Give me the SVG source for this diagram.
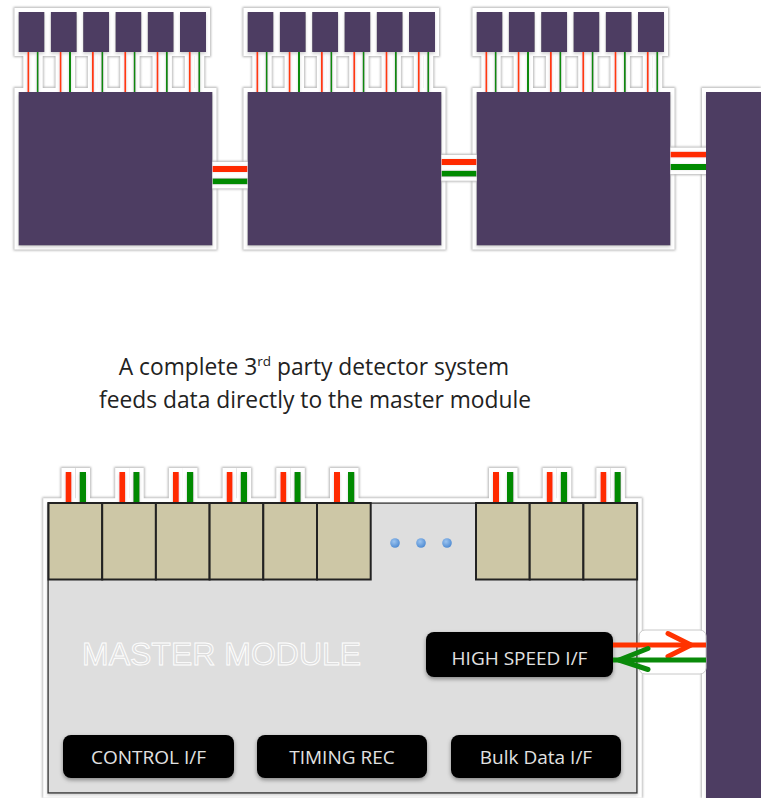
<svg xmlns="http://www.w3.org/2000/svg" xmlns:xlink="http://www.w3.org/1999/xlink" width="761" height="798" viewBox="0 0 761 798">
<style>
.pb{fill:#4e3c62}
.rw{stroke:#ff3a10;stroke-width:2}
.gw{stroke:#0a8a0a;stroke-width:2}
.rs{fill:#ff2a00}
.gs{fill:#008a00}
.tan{fill:#cdc7a6;stroke:#222;stroke-width:2}
.btn{fill:#000}
.bt{font-family:"Open Sans","Liberation Sans",sans-serif;font-size:19px;fill:#e2e2e2;text-anchor:middle}
.cap{font-family:"Open Sans","Liberation Sans",sans-serif;font-size:22.8px;fill:#222;text-anchor:middle}
.dot{fill:url(#dotg)}
</style>
<defs>
<filter id="halo" filterUnits="userSpaceOnUse" x="0" y="0" width="761" height="798">
<feMorphology in="SourceAlpha" operator="dilate" radius="5" result="d5"/>
<feGaussianBlur in="d5" stdDeviation="0.8" result="d5b"/>
<feFlood flood-color="#b5b5b5"/>
<feComposite in2="d5b" operator="in" result="grey"/>
<feMorphology in="SourceAlpha" operator="dilate" radius="4" result="d4"/>
<feFlood flood-color="#ffffff"/>
<feComposite in2="d4" operator="in" result="white"/>
<feGaussianBlur in="SourceAlpha" stdDeviation="1.5" result="sb"/>
<feOffset in="sb" dy="2" result="so"/>
<feFlood flood-color="#000" flood-opacity="0.35"/>
<feComposite in2="so" operator="in" result="shadow"/>
<feMerge><feMergeNode in="grey"/><feMergeNode in="white"/><feMergeNode in="shadow"/><feMergeNode in="SourceGraphic"/></feMerge>
</filter>
<filter id="haloV" filterUnits="userSpaceOnUse" x="0" y="0" width="761" height="798">
<feMorphology in="SourceAlpha" operator="dilate" radius="0 5" result="d5"/>
<feGaussianBlur in="d5" stdDeviation="0 0.8" result="d5b"/>
<feFlood flood-color="#b5b5b5"/>
<feComposite in2="d5b" operator="in" result="grey"/>
<feMorphology in="SourceAlpha" operator="dilate" radius="0 4" result="d4"/>
<feFlood flood-color="#ffffff"/>
<feComposite in2="d4" operator="in" result="white"/>
<feGaussianBlur in="SourceAlpha" stdDeviation="0 1" result="sb"/>
<feFlood flood-color="#000" flood-opacity="0.25"/>
<feComposite in2="sb" operator="in" result="shadow"/>
<feMerge><feMergeNode in="grey"/><feMergeNode in="white"/><feMergeNode in="shadow"/><feMergeNode in="SourceGraphic"/></feMerge>
</filter>
<filter id="shd" x="-10%" y="-20%" width="120%" height="150%">
<feGaussianBlur in="SourceAlpha" stdDeviation="2"/>
<feOffset dy="2" result="o"/>
<feFlood flood-color="#000" flood-opacity="0.4"/>
<feComposite in2="o" operator="in"/>
<feMerge><feMergeNode/><feMergeNode in="SourceGraphic"/></feMerge>
</filter>
<radialGradient id="dotg" cx="0.4" cy="0.35" r="0.7">
<stop offset="0" stop-color="#9cc4f0"/>
<stop offset="1" stop-color="#4a87d0"/>
</radialGradient>
<marker id="chevR" markerUnits="userSpaceOnUse" viewBox="-26 -15 30 30" refX="0" refY="0" markerWidth="30" markerHeight="30" orient="auto">
<polyline points="-23,-11.5 0,0 -23,11.5" fill="none" stroke="#ff3300" stroke-width="5" stroke-linecap="round" stroke-linejoin="round"/>
</marker>
<marker id="chevG" markerUnits="userSpaceOnUse" viewBox="-32 -15 36 30" refX="0" refY="0" markerWidth="36" markerHeight="30" orient="auto">
<polyline points="-29,-9.5 0,0 -29,11.5" fill="none" stroke="#0a8a0a" stroke-width="5" stroke-linecap="round" stroke-linejoin="round"/>
</marker>
<g id="unit">
<rect class="pb" x="0" y="12" width="26" height="40"/>
<line class="rw" x1="9.8" y1="52" x2="9.8" y2="92"/>
<line class="gw" x1="19.2" y1="52" x2="19.2" y2="92"/>
</g>
<g id="det">
<use xlink:href="#unit" x="0"/>
<use xlink:href="#unit" x="32.3"/>
<use xlink:href="#unit" x="64.6"/>
<use xlink:href="#unit" x="96.9"/>
<use xlink:href="#unit" x="129.2"/>
<use xlink:href="#unit" x="161.5"/>
<rect class="pb" x="0" y="92" width="194" height="153.5"/>
</g>
<g id="stub">
<rect class="rs" x="17" y="472" width="6" height="31"/>
<rect class="gs" x="31" y="472" width="6.5" height="31"/>
</g>
</defs>

<rect width="761" height="798" fill="#fff"/>

<g id="detector1" filter="url(#halo)"><use xlink:href="#det" x="18.5"/></g>
<g id="detector2" filter="url(#halo)"><use xlink:href="#det" x="247.5"/></g>
<g id="detector3" filter="url(#halo)"><use xlink:href="#det" x="476.5"/></g>

<g id="master-bar" filter="url(#halo)">
<rect class="pb" x="706" y="92" width="70" height="730"/>
</g>

<g id="caption">
<text class="cap" x="314" y="375">A complete 3<tspan font-size="13.5" dy="-9">rd</tspan><tspan dy="9"> party detector system</tspan></text>
<text class="cap" x="315" y="408">feeds data directly to the master module</text>
</g>

<g id="master-module">
<g filter="url(#halo)">
<use xlink:href="#stub" x="48.5"/>
<use xlink:href="#stub" x="102.2"/>
<use xlink:href="#stub" x="155.9"/>
<use xlink:href="#stub" x="209.6"/>
<use xlink:href="#stub" x="263.3"/>
<use xlink:href="#stub" x="317"/>
<use xlink:href="#stub" x="476"/>
<use xlink:href="#stub" x="529.7"/>
<use xlink:href="#stub" x="583.4"/>
<rect x="48" y="503" width="589" height="290" fill="#dedede" stroke="#333" stroke-width="1.5"/>
</g>
<rect class="tan" x="48.5" y="503" width="53.7" height="76.5"/>
<rect class="tan" x="102.2" y="503" width="53.7" height="76.5"/>
<rect class="tan" x="155.9" y="503" width="53.7" height="76.5"/>
<rect class="tan" x="209.6" y="503" width="53.7" height="76.5"/>
<rect class="tan" x="263.3" y="503" width="53.7" height="76.5"/>
<rect class="tan" x="317" y="503" width="53.7" height="76.5"/>
<rect class="tan" x="476" y="503" width="53.7" height="76.5"/>
<rect class="tan" x="529.7" y="503" width="53.7" height="76.5"/>
<rect class="tan" x="583.4" y="503" width="53.7" height="76.5"/>
<circle class="dot" cx="395" cy="543" r="4.8"/>
<circle class="dot" cx="421" cy="543" r="4.8"/>
<circle class="dot" cx="447" cy="543" r="4.8"/>
<text x="82" y="665" font-family="'Liberation Sans',Arial,sans-serif" font-size="32" fill="#dedede" stroke="#ffffff" stroke-width="0.9">MASTER MODULE</text>
</g>

<g id="high-speed-if">
<rect class="btn" x="426" y="632" width="187" height="45" rx="8" filter="url(#shd)"/>
<text class="bt" x="519.5" y="664.5">HIGH SPEED I/F</text>
</g>
<g id="control-if">
<rect class="btn" x="63" y="735" width="171" height="43" rx="8" filter="url(#shd)"/>
<text class="bt" x="148.5" y="763.5">CONTROL I/F</text>
</g>
<g id="timing-rec">
<rect class="btn" x="257" y="735" width="170" height="43" rx="8" filter="url(#shd)"/>
<text class="bt" x="342" y="763.5">TIMING REC</text>
</g>
<g id="bulk-data-if">
<rect class="btn" x="451" y="735" width="170" height="43" rx="8" filter="url(#shd)"/>
<text class="bt" x="536" y="763.5">Bulk Data I/F</text>
</g>

<g id="connectors">
<g filter="url(#haloV)">
<rect class="rs" x="212.5" y="166" width="35" height="6"/>
<rect class="gs" x="212.5" y="178.3" width="35" height="6"/>
</g>
<g filter="url(#haloV)">
<rect class="rs" x="441.5" y="159" width="35" height="6"/>
<rect class="gs" x="441.5" y="170.7" width="35" height="6"/>
</g>
<g filter="url(#haloV)">
<rect class="rs" x="670.5" y="151.7" width="35.5" height="5.8"/>
<rect class="gs" x="670.5" y="164" width="35.5" height="6"/>
</g>
<g id="hs-link">
<rect x="639" y="630" width="67" height="44" rx="6" fill="#fff" stroke="#c8c8c8" stroke-width="1"/>
<path d="M613 645 L691 645 L706 645" fill="none" stroke="#ff3300" stroke-width="5" marker-mid="url(#chevR)"/>
<path d="M706 660 L619 660 L613 660" fill="none" stroke="#0a8a0a" stroke-width="5" marker-mid="url(#chevG)"/>
</g>
</g>
</svg>
